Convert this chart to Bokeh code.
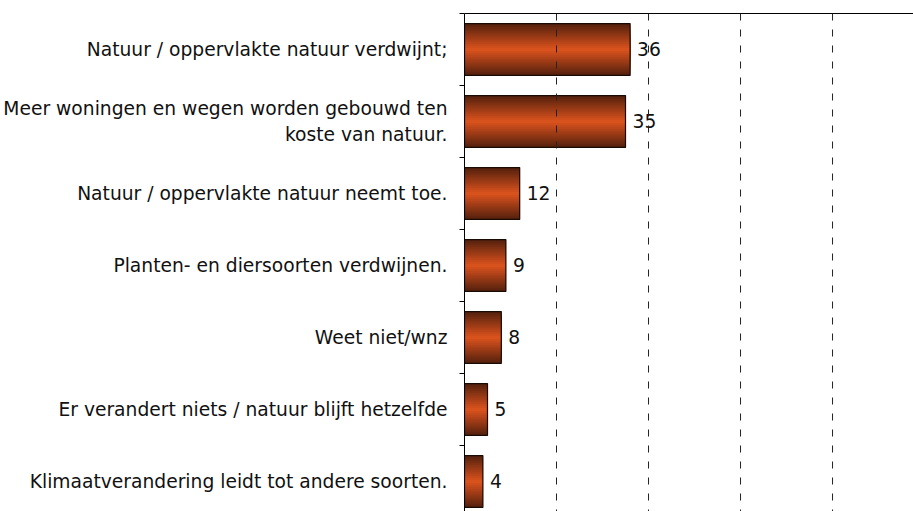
from bokeh.plotting import figure
from bokeh.models import Range1d, FixedTicker, LinearAxis, ColumnDataSource, Span
from bokeh.core.properties import value
from bokeh.embed import file_html
from bokeh.resources import INLINE

categories = [
    "Natuur / oppervlakte natuur verdwijnt;",
    "Meer woningen en wegen worden gebouwd ten\nkoste van natuur.",
    "Natuur / oppervlakte natuur neemt toe.",
    "Planten- en diersoorten verdwijnen.",
    "Weet niet/wnz",
    "Er verandert niets / natuur blijft hetzelfde",
    "Klimaatverandering leidt tot andere soorten.",
]
values = [36, 35, 12, 9, 8, 5, 4]
grid_ticks = [20, 40, 60, 80]

FONT = "DejaVu Sans"
FS = "18.7px"
pos = list(range(len(categories)))
src = ColumnDataSource(dict(y=pos, v=values, lab=[str(v) for v in values]))

p = figure(width=913, height=511, output_backend="svg", toolbar_location=None,
           x_range=Range1d(0, 97.6), y_range=Range1d(6.417, -0.5),
           x_axis_location=None, y_axis_location=None,
           min_border_top=13, min_border_bottom=0, min_border_right=0, min_border_left=464)
p.outline_line_color = None
p.background_fill_color = "white"
p.xgrid.visible = False
p.ygrid.visible = False

for g in grid_ticks:
    p.add_layout(Span(location=g, dimension="height", line_color="#222222",
                      line_width=1, line_dash="7 9"))

# gradient bars (layered strips)
n = 14
dark = (88, 34, 14)
bright = (216, 82, 30)
full_h = 0.72
for k in range(n):
    t = k / (n - 1)
    c = tuple(int(dark[i] + (bright[i] - dark[i]) * t) for i in range(3))
    h = full_h * (1 - k / n)
    p.hbar(y="y", right="v", left=0, height=h, source=src,
           fill_color="#%02x%02x%02x" % c, line_color=None)
p.hbar(y="y", right="v", left=0, height=full_h, source=src,
       fill_color=None, line_color="#1a0a04", line_width=1.2)

p.text(x="v", y="y", text="lab", source=src, x_offset=7,
       text_font=value(FONT), text_font_size=FS, text_color="#111111",
       text_align="left", text_baseline="middle")

overrides = {i: c for i, c in enumerate(categories)}
yax = LinearAxis(ticker=FixedTicker(ticks=pos, minor_ticks=[i - 0.5 for i in range(len(categories))]),
                 major_label_overrides=overrides)
yax.major_tick_line_color = None
yax.major_tick_out = 0
yax.major_tick_in = 0
yax.minor_tick_out = 5
yax.minor_tick_in = 0
yax.minor_tick_line_color = "#000000"
yax.axis_line_color = "#000000"
yax.major_label_standoff = 12
yax.major_label_text_font = FONT
yax.major_label_text_font_size = FS
yax.major_label_text_color = "#111111"
yax.major_label_text_align = "right"
p.add_layout(yax, "left")

top = LinearAxis(ticker=FixedTicker(ticks=[]))
top.axis_line_color = "#000000"
top.major_label_text_font_size = "0px"
top.major_tick_line_color = None
top.minor_tick_line_color = None
top.major_label_standoff = 0
top.major_tick_out = 0
p.add_layout(top, "above")

open("out.html", "w").write(file_html(p, INLINE))
